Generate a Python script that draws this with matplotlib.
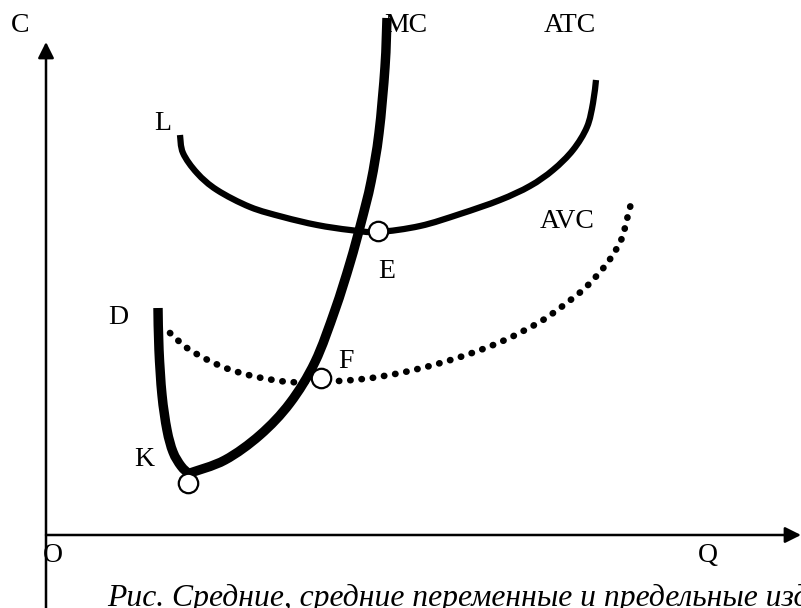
import matplotlib.pyplot as plt
from matplotlib.path import Path
from matplotlib.patches import PathPatch

# curve points (pixel coords, y grows downwards)
atc_x = [180, 183, 197, 217, 250, 283, 317, 350, 378, 420, 460, 500, 530, 553, 573, 587, 593, 596]
atc_y = [135, 153, 173, 190, 207, 217, 225, 230, 232, 226, 214, 200, 186, 170, 150, 127, 103, 80]

mc_x = [190, 225, 260, 290, 315, 335, 350, 361, 371, 379, 385, 387]
mc_y = [473, 460, 435, 403, 362, 310, 263, 223, 182, 133, 67, 18]

dk_x = [158, 159, 162, 167, 173, 181, 189]
dk_y = [308, 350, 395, 430, 452, 466, 474]

avc_x = [170, 190, 223, 257, 290, 320, 363, 400, 437, 472, 505, 538, 560, 585, 605, 617, 623, 628, 632]
avc_y = [333, 350, 367, 377, 382, 382, 379, 373, 364, 353, 340, 323, 308, 288, 266, 248, 235, 215, 200]

points = {'K': (188, 483), 'F': (321, 378), 'E': (378, 231)}

labels = [('C', 20, 25), ('MC', 406, 25), ('ATC', 570, 25), ('L', 163, 124),
          ('AVC', 567, 222), ('E', 387, 272), ('F', 346, 361), ('D', 118, 318),
          ('K', 144, 460), ('O', 53, 556), ('Q', 708, 556)]

caption = 'Рис. Средние, средние переменные и предельные издержки'


def smooth(xs, ys):
    # catmull-rom through the read points, drawn as cubic bezier
    pts = list(zip(xs, ys))
    verts, codes = [pts[0]], [Path.MOVETO]
    for i in range(len(pts) - 1):
        p0 = pts[i - 1] if i > 0 else pts[i]
        p1, p2 = pts[i], pts[i + 1]
        p3 = pts[i + 2] if i + 2 < len(pts) else pts[i + 1]
        c1 = (p1[0] + (p2[0] - p0[0]) / 6, p1[1] + (p2[1] - p0[1]) / 6)
        c2 = (p2[0] - (p3[0] - p1[0]) / 6, p2[1] - (p3[1] - p1[1]) / 6)
        verts += [c1, c2, p2]
        codes += [Path.CURVE4] * 3
    return Path(verts, codes)


fig = plt.figure(figsize=(8.01, 6.08), dpi=100)
ax = fig.add_axes([0, 0, 1, 1])
ax.set_xlim(0, 801)
ax.set_ylim(608, 0)
ax.axis('off')

# axes with arrows
arrow = dict(arrowstyle='-|>', lw=1.8, mutation_scale=24, color='black',
             shrinkA=0, shrinkB=0)
ax.annotate('', xy=(46, 42), xytext=(46, 615), arrowprops=arrow)
ax.annotate('', xy=(801, 535), xytext=(46, 535), arrowprops=arrow)

# text labels
for txt, x, y in labels:
    ax.text(x, y, txt, fontsize=20, family='Liberation Serif',
            ha='center', va='center', zorder=1)

# curves
ax.add_patch(PathPatch(smooth(atc_x, atc_y), fill=False, ec='black', lw=4.5,
                       capstyle='butt', zorder=3))
ax.add_patch(PathPatch(smooth(avc_x, avc_y), fill=False, ec='black', lw=4.8,
                       linestyle=(0, (0.05, 1.65)), capstyle='round', zorder=3))
ax.add_patch(PathPatch(smooth(mc_x, mc_y), fill=False, ec='black', lw=6.8,
                       capstyle='butt', zorder=4))
ax.add_patch(PathPatch(smooth(dk_x, dk_y), fill=False, ec='black', lw=6.8,
                       capstyle='butt', zorder=4))

# marked points
for name, (x, y) in points.items():
    ax.plot(x, y, 'o', ms=14, mfc='white', mec='black', mew=1.6, zorder=5)

# caption is cut by the right edge in the original too
ax.text(107, 606, caption, fontsize=22.8, family='Liberation Serif',
        style='italic', ha='left', va='baseline')

fig.savefig('out.png', dpi=100)
